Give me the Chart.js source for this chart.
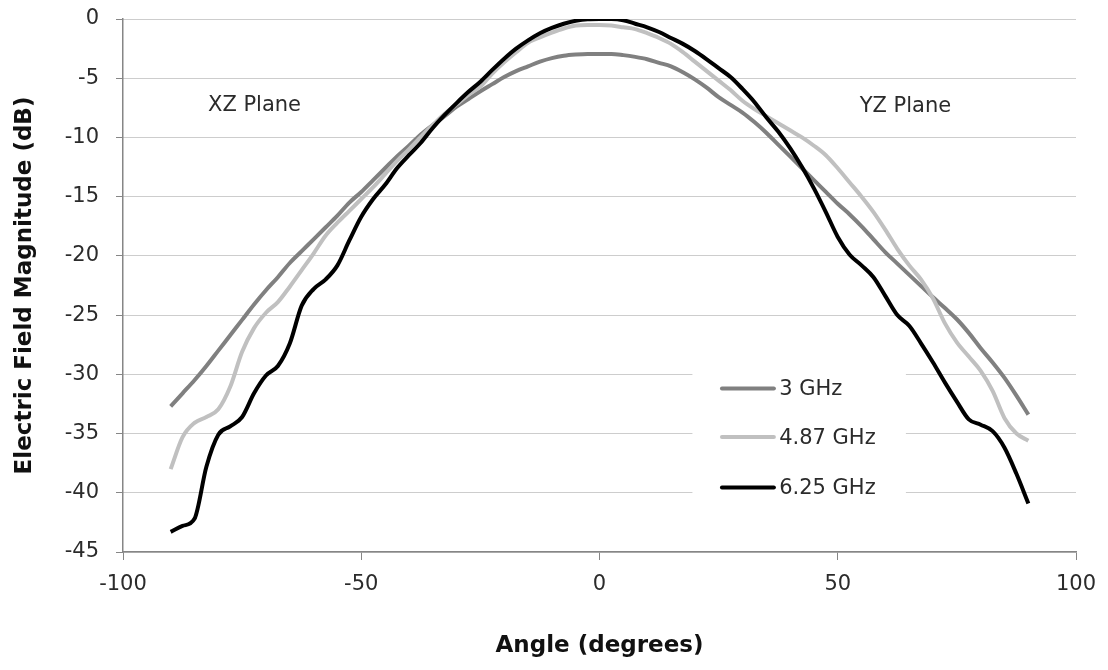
<!DOCTYPE html>
<html lang="en">
<head>
  <meta charset="UTF-8" />
  <title>Electric Field Magnitude</title>
  <style>
    body {
      margin: 0;
      background-color: #fff;
    }
    #wrap {
      width: 1108px;
      height: 670px;
    }
  </style>
  <script src="https://cdn.jsdelivr.net/npm/chart.js"></script>
</head>
<body>
  <div id="wrap"><canvas id="grafico" width="1108" height="670"></canvas></div>

  <script>
    const angles = [
      -90, -87.5, -85, -82.5, -80, -77.5, -75, -72.5, -70, -67.5, -65, -62.5,
      -60, -57.5, -55, -52.5, -50, -47.5, -45, -42.5, -40, -37.5, -35, -32.5,
      -30, -27.5, -25, -22.5, -20, -17.5, -15, -12.5, -10, -7.5, -5, -2.5,
      0, 2.5, 5, 7.5, 10, 12.5, 15, 17.5, 20, 22.5, 25, 27.5,
      30, 32.5, 35, 37.5, 40, 42.5, 45, 47.5, 50, 52.5, 55, 57.5,
      60, 62.5, 65, 67.5, 70, 72.5, 75, 77.5, 80, 82.5, 85, 87.5, 90
    ];
    const db3 = [
      -32.7, -31.6, -30.5, -29.3, -28.0, -26.7, -25.4, -24.1, -22.9, -21.8, -20.6, -19.6,
      -18.6, -17.6, -16.6, -15.5, -14.6, -13.6, -12.6, -11.6, -10.7, -9.75, -8.95, -8.2,
      -7.4, -6.75, -6.1, -5.5, -4.9, -4.4, -4.0, -3.6, -3.3, -3.1, -3.0, -2.95,
      -2.95, -2.95, -3.05, -3.2, -3.4, -3.7, -4.0, -4.5, -5.1, -5.8, -6.6, -7.25,
      -7.9, -8.7, -9.6, -10.6, -11.6, -12.6, -13.6, -14.6, -15.6, -16.5, -17.5, -18.6,
      -19.7, -20.65, -21.6, -22.55, -23.5, -24.4, -25.35, -26.5, -27.8, -29.0, -30.3, -31.8, -33.4
    ];
    const db487 = [
      -38.0, -35.3, -34.1, -33.6, -32.95, -31.05, -28.1, -26.1, -24.8, -23.9, -22.6, -21.2,
      -19.8, -18.3, -17.2, -16.2, -15.2, -14.2, -13.1, -12.0, -11.0, -9.95, -8.95, -8.0,
      -7.2, -6.4, -5.7, -4.6, -3.65, -2.8, -2.0, -1.55, -1.15, -0.8, -0.55, -0.5,
      -0.5, -0.55, -0.7, -0.85, -1.2, -1.6, -2.1, -2.8, -3.6, -4.4, -5.2, -6.0,
      -6.9, -7.6, -8.2, -8.8, -9.4, -10.0, -10.7, -11.5, -12.6, -13.8, -15.0, -16.3,
      -17.8, -19.4, -20.8, -22.0, -23.6, -25.7, -27.3, -28.5, -29.7, -31.4, -33.7, -35.0, -35.6
    ];
    const db625 = [
      -43.3, -42.8, -42.2, -37.8, -35.1, -34.4, -33.6, -31.6, -30.1, -29.3, -27.4, -24.2,
      -22.8, -22.0, -20.8, -18.7, -16.7, -15.2, -14.0, -12.6, -11.5, -10.45, -9.2, -8.1,
      -7.1, -6.15, -5.3, -4.3, -3.35, -2.5, -1.8, -1.2, -0.75, -0.4, -0.15, -0.02,
      0, 0, -0.1, -0.4, -0.7, -1.1, -1.6, -2.1, -2.7, -3.4, -4.15, -4.9,
      -5.9, -7.0, -8.3, -9.5, -10.9, -12.5, -14.3, -16.3, -18.4, -19.9, -20.8, -21.8,
      -23.4, -25.0, -25.9, -27.4, -29.0, -30.7, -32.3, -33.8, -34.25, -34.8, -36.2, -38.4, -40.9
    ];
    const seriesNames = ["3 GHz", "4.87 GHz", "6.25 GHz"];
    const seriesColors = ["#808080", "#c0c0c0", "#000000"];
    const xTicks = [-100, -50, 0, 50, 100];
    const yTicks = [0, -5, -10, -15, -20, -25, -30, -35, -40, -45];
    const planeLabels = ["XZ Plane", "YZ Plane"];

    const fonte = "DejaVu Sans";
    const corTexto = "#2b2b2b";
    const corEixo = "#868686";

    function pontos(valores) {
      return angles.map((a, i) => ({ x: a, y: valores[i] }));
    }

    // legenda e rótulos dos planos desenhados dentro da área do gráfico
    const extrasPlugin = {
      id: "extras",
      afterDraw(chart) {
        const { ctx, scales } = chart;
        const x = scales.x;
        const y = scales.y;
        ctx.save();

        const bx1 = x.getPixelForValue(19.5);
        const bx2 = x.getPixelForValue(64.3);
        const by1 = y.getPixelForValue(-27.2);
        const by2 = y.getPixelForValue(-44.2);
        ctx.fillStyle = "#fff";
        ctx.fillRect(bx1, by1, bx2 - bx1, by2 - by1);

        const legY = [-31.2, -35.3, -39.55];
        ctx.font = "21px '" + fonte + "'";
        ctx.textBaseline = "middle";
        ctx.textAlign = "left";
        ctx.lineCap = "round";
        seriesNames.forEach((nome, i) => {
          const py = y.getPixelForValue(legY[i]);
          ctx.strokeStyle = seriesColors[i];
          ctx.lineWidth = 4;
          ctx.beginPath();
          ctx.moveTo(x.getPixelForValue(25.7), py);
          ctx.lineTo(x.getPixelForValue(36.6), py);
          ctx.stroke();
          ctx.fillStyle = corTexto;
          ctx.fillText(nome, x.getPixelForValue(37.7), py + 1);
        });

        ctx.textAlign = "center";
        ctx.fillText(planeLabels[0], x.getPixelForValue(-72.4), y.getPixelForValue(-7.3));
        ctx.fillText(planeLabels[1], x.getPixelForValue(64.2), y.getPixelForValue(-7.4));
        ctx.restore();
      },
    };

    const ctx = document.getElementById("grafico").getContext("2d");

    new Chart(ctx, {
      type: "line",
      data: {
        datasets: seriesNames.map((nome, i) => ({
          label: nome,
          data: pontos([db3, db487, db625][i]),
          borderColor: seriesColors[i],
          borderWidth: 4,
          pointRadius: 0,
          fill: false,
          cubicInterpolationMode: "monotone",
          order: 3 - i,
        })),
      },
      options: {
        responsive: false,
        animation: false,
        layout: {
          padding: { top: 19, right: 32, left: 0, bottom: 0 },
        },
        plugins: {
          legend: { display: false },
          tooltip: { enabled: false },
        },
        scales: {
          x: {
            type: "linear",
            min: -100,
            max: 100,
            afterBuildTicks: (s) => {
              s.ticks = xTicks.map((v) => ({ value: v }));
            },
            afterFit: (s) => {
              s.height = 118;
              s.paddingLeft = 0;
              s.paddingRight = 0;
            },
            grid: {
              drawOnChartArea: false,
              tickLength: 8,
              color: corEixo,
            },
            border: { color: corEixo, width: 1.5 },
            ticks: {
              padding: 12,
              color: corTexto,
              font: { family: fonte, size: 21 },
            },
            title: {
              display: true,
              text: "Angle (degrees)",
              color: "#111",
              font: { family: fonte, size: 23, weight: "bold" },
              padding: { top: 0, bottom: 10 },
            },
          },
          y: {
            type: "linear",
            min: -45,
            max: 0,
            afterBuildTicks: (s) => {
              s.ticks = yTicks.map((v) => ({ value: v }));
            },
            afterFit: (s) => {
              s.width = 123;
              s.paddingTop = 0;
              s.paddingBottom = 0;
            },
            grid: {
              color: "#9a9a9a",
              tickLength: 7,
              tickColor: corEixo,
              tickBorderDash: [],
            },
            border: { color: corEixo, width: 1.5, dash: [1, 1] },
            ticks: {
              padding: 17,
              color: corTexto,
              font: { family: fonte, size: 21 },
            },
            title: {
              display: true,
              text: "Electric Field Magnitude (dB)",
              color: "#111",
              font: { family: fonte, size: 23, weight: "bold" },
              padding: { top: 11, bottom: 0 },
            },
          },
        },
      },
      plugins: [extrasPlugin],
    });
  </script>
</body>
</html>
